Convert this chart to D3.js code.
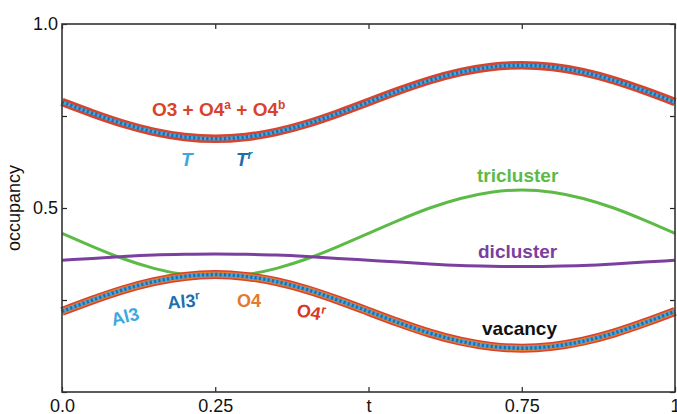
<!DOCTYPE html>
<html lang="en">
<head>
  <meta charset="UTF-8">
  <title>occupancy vs t</title>
  <style>
    body { margin: 0; background: #fff; }
    text { font-family: "Liberation Sans", Arial, sans-serif; }
  </style>
</head>
<body>
  <svg id="svg" width="677" height="414"></svg>

  <script src="https://d3js.org/d3.v7.min.js"></script>
  <script>
    // values at t = 0, 0.05, ... 1
    const tValues = [0, 0.05, 0.1, 0.15, 0.2, 0.25, 0.3, 0.35, 0.4, 0.45, 0.5,
                     0.55, 0.6, 0.65, 0.7, 0.75, 0.8, 0.85, 0.9, 0.95, 1]
    const upperBand = [0.788, 0.757, 0.729, 0.707, 0.693, 0.688, 0.693, 0.707, 0.729, 0.757, 0.788,
                       0.819, 0.847, 0.869, 0.883, 0.888, 0.883, 0.869, 0.847, 0.819, 0.788]
    const lowerBand = [0.219, 0.250, 0.278, 0.300, 0.314, 0.319, 0.314, 0.300, 0.278, 0.250, 0.219,
                       0.188, 0.160, 0.138, 0.124, 0.119, 0.124, 0.138, 0.160, 0.188, 0.219]
    const tricluster = [0.431, 0.395, 0.362, 0.336, 0.319, 0.313, 0.319, 0.336, 0.362, 0.395, 0.431,
                        0.467, 0.500, 0.526, 0.543, 0.549, 0.543, 0.526, 0.500, 0.467, 0.431]
    const dicluster = [0.358, 0.363, 0.368, 0.372, 0.374, 0.375, 0.374, 0.372, 0.368, 0.363, 0.358,
                       0.353, 0.348, 0.344, 0.342, 0.341, 0.342, 0.344, 0.348, 0.353, 0.358]

    const xTicks = [0, 0.25, 0.5, 0.75, 1]
    const xTickLabels = ['0.0', '0.25', 't', '0.75', '1']
    const yTicks = [0, 0.25, 0.5, 0.75, 1]
    const yTickLabels = ['', '', '0.5', '', '1.0']

    const plotLeft = 62, plotRight = 675, plotTop = 24, plotBottom = 392

    const svg = d3.select('#svg')

    const x = d3.scaleLinear().domain([0, 1]).range([plotLeft, plotRight])
    const y = d3.scaleLinear().domain([0, 1]).range([plotBottom, plotTop])

    const line = (vals) => d3.line()
      .x((d, i) => x(tValues[i]))
      .y(d => y(d))
      .curve(d3.curveNatural)(vals)

    // thin lines first
    svg.append('path').attr('d', line(tricluster))
      .attr('fill', 'none').attr('stroke', '#5dba47').attr('stroke-width', 3)
    svg.append('path').attr('d', line(dicluster))
      .attr('fill', 'none').attr('stroke', '#7b3f9f').attr('stroke-width', 3)

    // upper band: red outside, dotted blue inside
    svg.append('path').attr('d', line(upperBand))
      .attr('fill', 'none').attr('stroke', '#d8432c').attr('stroke-width', 8.5)
    svg.append('path').attr('d', line(upperBand))
      .attr('fill', 'none').attr('stroke', '#45a8e0').attr('stroke-width', 3.5)
    svg.append('path').attr('d', line(upperBand))
      .attr('fill', 'none').attr('stroke', '#1f6fb0').attr('stroke-width', 3.5)
      .attr('stroke-dasharray', '2.2,2.2')

    // lower band: red, orange, dotted blue
    svg.append('path').attr('d', line(lowerBand))
      .attr('fill', 'none').attr('stroke', '#d8432c').attr('stroke-width', 9)
    svg.append('path').attr('d', line(lowerBand))
      .attr('fill', 'none').attr('stroke', '#e47a2c').attr('stroke-width', 6)
    svg.append('path').attr('d', line(lowerBand))
      .attr('fill', 'none').attr('stroke', '#45a8e0').attr('stroke-width', 3.5)
    svg.append('path').attr('d', line(lowerBand))
      .attr('fill', 'none').attr('stroke', '#1f6fb0').attr('stroke-width', 3.5)
      .attr('stroke-dasharray', '2.2,2.2')

    // axes, ticks pointing inward
    const styleAxis = (g) => {
      g.select('.domain').remove()
      g.selectAll('.tick line').attr('stroke', '#222').attr('stroke-width', 1.2)
      g.selectAll('.tick text').attr('fill', '#111').style('font-size', '18px')
        .style('font-family', '"Liberation Sans", Arial, sans-serif')
    }
    svg.append('g').attr('transform', `translate(0,${plotBottom})`)
      .call(d3.axisBottom(x).tickValues(xTicks).tickSize(-5).tickPadding(7)
        .tickFormat((d, i) => xTickLabels[i]))
      .call(styleAxis)
    svg.append('g').attr('transform', `translate(0,${plotTop})`)
      .call(d3.axisTop(x).tickValues(xTicks).tickSize(-5).tickFormat(''))
      .call(styleAxis)
      .selectAll('.tick text').remove()
    svg.append('g').attr('transform', `translate(${plotLeft},0)`)
      .call(d3.axisLeft(y).tickValues(yTicks).tickSize(-5).tickPadding(4)
        .tickFormat((d, i) => yTickLabels[i]))
      .call(styleAxis)
    svg.append('g').attr('transform', `translate(${plotRight},0)`)
      .call(d3.axisRight(y).tickValues(yTicks).tickSize(-5).tickFormat(''))
      .call(styleAxis)
      .selectAll('.tick text').remove()

    svg.append('rect')
      .attr('x', plotLeft).attr('y', plotTop)
      .attr('width', plotRight - plotLeft).attr('height', plotBottom - plotTop)
      .attr('fill', 'none').attr('stroke', '#333').attr('stroke-width', 1.6)

    svg.append('text')
      .attr('transform', `translate(20,${y(0.5)}) rotate(-90)`)
      .attr('text-anchor', 'middle')
      .style('font-size', '18px')
      .attr('fill', '#111')
      .text('occupancy')

    // curve labels; sup[i] is the superscript after part i
    const label = (parts, sup, px, py, color, opts = {}) => {
      const t = svg.append('text')
        .attr('x', px).attr('y', py)
        .attr('fill', color)
        .style('font-weight', 'bold')
        .style('font-size', (opts.size || 19) + 'px')
        .style('font-style', opts.italic ? 'italic' : 'normal')
      if (opts.rotate) t.attr('transform', `rotate(${opts.rotate},${px},${py})`)
      let shift = 0
      parts.forEach((part, i) => {
        t.append('tspan').text(part).attr('dy', shift)
        shift = 0
        if (sup[i]) {
          t.append('tspan').text(sup[i]).attr('dy', -7).style('font-size', '12px')
          shift = 7
        }
      })
    }

    label(['O3 + O4', ' + O4'], ['a', 'b'], 152, 116, '#d8432c')
    label(['T'], [], 181, 166, '#3ea8de', { italic: true })
    label(['T'], ['r'], 236, 166, '#1c6fae', { italic: true })
    label(['tricluster'], [], 477, 182, '#5dba47')
    label(['dicluster'], [], 478, 258, '#7b3f9f')
    label(['vacancy'], [], 482, 335, '#111')
    label(['Al3'], [], 113, 326, '#3ea8de', { size: 18, rotate: -14 })
    label(['Al3'], ['r'], 168, 309, '#1c6fae', { size: 18, rotate: -5 })
    label(['O4'], [], 237, 307, '#e47a2c', { size: 18 })
    label(['O4'], ['r'], 296, 316, '#d43a2a', { size: 18, rotate: 10 })
  </script>
</body>
</html>
